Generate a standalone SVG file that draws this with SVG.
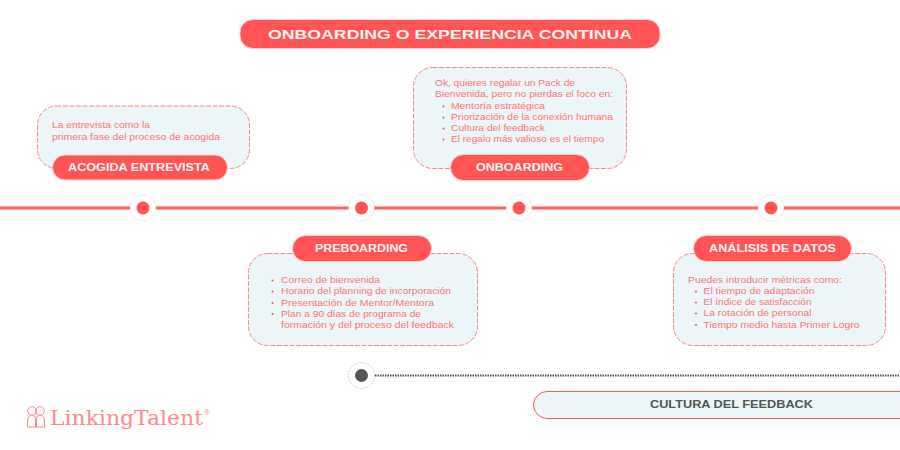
<svg xmlns="http://www.w3.org/2000/svg" width="900" height="450" viewBox="0 0 900 450">
<style>
text{font-family:"Liberation Sans",Arial,sans-serif}
.box{fill:#ecf5f7;stroke:#ff8a8a;stroke-width:1;stroke-dasharray:5 1.500}
.pill{fill:#ff5555;stroke:#ffd0d0;stroke-width:1}
.pt{fill:#fdf3f3;font-weight:700;font-size:10px}
.t{fill:#ff7676;font-size:9px}
.b{fill:#ff5555}
.halo{fill:#fff;stroke:#ffa8a8;stroke-width:.8;stroke-dasharray:1 1.600}
.dot{fill:#ff5555}
.logo{fill:none;stroke:#ff8a8a;stroke-width:1}
</style>
<rect width="900" height="450" fill="#fff"/>
<g id="connectors">
<line x1="0" y1="208" x2="900" y2="208" stroke="#ff5c5c" stroke-width="3"/>
<line x1="375" y1="375.500" x2="900" y2="375.500" stroke="#555" stroke-width="2.200" stroke-dasharray="1.500 1"/>
</g>
<g id="title"><rect class="pill" x="240" y="19.500" width="420" height="29" rx="13"/>
<text x="268" y="38.500" textLength="364" lengthAdjust="spacingAndGlyphs" style="font-size:13.500px;font-weight:700;fill:#fdf3f3">ONBOARDING O EXPERIENCIA CONTINUA</text></g>
<g id="node-t1"><circle class="halo" cx="143" cy="208" r="13"/><circle class="dot" cx="143" cy="208" r="6.500"/></g>
<g id="node-t2"><circle class="halo" cx="361.500" cy="208" r="13"/><circle class="dot" cx="361.500" cy="208" r="6.500"/></g>
<g id="node-t3"><circle class="halo" cx="519" cy="208" r="13"/><circle class="dot" cx="519" cy="208" r="6.500"/></g>
<g id="node-t4"><circle class="halo" cx="771" cy="208" r="13"/><circle class="dot" cx="771" cy="208" r="6.500"/></g>
<g id="node-acogida">
<rect class="box" x="37.500" y="106" width="212" height="62.500" rx="19"/>
<rect class="pill" x="52.500" y="155" width="175" height="25" rx="12.500"/>
<text class="pt" x="68" y="171" textLength="142" lengthAdjust="spacingAndGlyphs">ACOGIDA ENTREVISTA</text>
<text class="t" x="52" y="128" textLength="98" lengthAdjust="spacingAndGlyphs">La entrevista como la</text>
<text class="t" x="52" y="139.500" textLength="168" lengthAdjust="spacingAndGlyphs">primera fase del proceso de acogida</text>
</g>
<g id="node-onboarding">
<rect class="box" x="413.500" y="67.500" width="213" height="101" rx="19"/>
<rect class="pill" x="450.500" y="154.500" width="139" height="26" rx="13"/>
<text class="pt" x="476" y="171" textLength="87" lengthAdjust="spacingAndGlyphs">ONBOARDING</text>
<text class="t" x="435" y="86" textLength="140" lengthAdjust="spacingAndGlyphs">Ok, quieres regalar un Pack de</text>
<text class="t" x="435" y="97" textLength="178" lengthAdjust="spacingAndGlyphs">Bienvenida, pero no pierdas el foco en:</text>
<circle class="b" cx="443.500" cy="106.500" r="1"/><text class="t" x="451" y="109" textLength="94" lengthAdjust="spacingAndGlyphs">Mentoría estratégica</text>
<circle class="b" cx="443.500" cy="117.500" r="1"/><text class="t" x="451" y="120" textLength="162" lengthAdjust="spacingAndGlyphs">Priorización de la conexión humana</text>
<circle class="b" cx="443.500" cy="128.500" r="1"/><text class="t" x="451" y="131" textLength="94" lengthAdjust="spacingAndGlyphs">Cultura del feedback</text>
<circle class="b" cx="443.500" cy="139.500" r="1"/><text class="t" x="451" y="142" textLength="153" lengthAdjust="spacingAndGlyphs">El regalo más valioso es el tiempo</text>
</g>
<g id="node-preboarding">
<rect class="box" x="248.500" y="253.500" width="229" height="92" rx="19"/>
<rect class="pill" x="292.500" y="235.500" width="139" height="26" rx="13"/>
<text class="pt" x="315" y="251.500" textLength="93" lengthAdjust="spacingAndGlyphs">PREBOARDING</text>
<circle class="b" cx="272.500" cy="280.500" r="1"/><text class="t" x="281" y="283" textLength="99" lengthAdjust="spacingAndGlyphs">Correo de bienvenida</text>
<circle class="b" cx="272.500" cy="291.500" r="1"/><text class="t" x="281" y="294" textLength="170" lengthAdjust="spacingAndGlyphs">Horario del planning de incorporación</text>
<circle class="b" cx="272.500" cy="303" r="1"/><text class="t" x="281" y="306" textLength="153" lengthAdjust="spacingAndGlyphs">Presentación de Mentor/Mentora</text>
<circle class="b" cx="272.500" cy="314" r="1"/><text class="t" x="281" y="317" textLength="140" lengthAdjust="spacingAndGlyphs">Plan a 90 días de programa de</text>
<text class="t" x="281" y="328" textLength="173" lengthAdjust="spacingAndGlyphs">formación y del proceso del feedback</text>
</g>
<g id="node-analisis">
<rect class="box" x="673.500" y="253.500" width="212" height="92" rx="19"/>
<rect class="pill" x="693.500" y="235.500" width="158" height="26" rx="13"/>
<text class="pt" x="709" y="251.500" textLength="127" lengthAdjust="spacingAndGlyphs">ANÁLISIS DE DATOS</text>
<text class="t" x="688" y="283" textLength="154" lengthAdjust="spacingAndGlyphs">Puedes introducir métricas como:</text>
<circle class="b" cx="696" cy="291.500" r="1"/><text class="t" x="703.500" y="294" textLength="111" lengthAdjust="spacingAndGlyphs">El tiempo de adaptación</text>
<circle class="b" cx="696" cy="302.500" r="1"/><text class="t" x="703.500" y="305" textLength="108" lengthAdjust="spacingAndGlyphs">El índice de satisfacción</text>
<circle class="b" cx="696" cy="313.500" r="1"/><text class="t" x="703.500" y="316" textLength="108" lengthAdjust="spacingAndGlyphs">La rotación de personal</text>
<circle class="b" cx="696" cy="325" r="1"/><text class="t" x="703.500" y="328" textLength="156" lengthAdjust="spacingAndGlyphs">Tiempo medio hasta Primer Logro</text>
</g>
<g id="node-cultura-dot"><circle cx="361.500" cy="375.500" r="13" fill="#fff" stroke="#999" stroke-width=".8" stroke-dasharray="1 1.600"/><circle cx="361.500" cy="375.500" r="6.500" fill="#555"/></g>
<g id="node-cultura">
<path d="M905 391.500H547a13.500 13.500 0 0 0 0 27H905Z" fill="#ecf5f7" stroke="#ff5c5c" stroke-width="1"/>
<text x="650" y="407.500" textLength="163" lengthAdjust="spacingAndGlyphs" style="font-size:10px;font-weight:700;fill:#555">CULTURA DEL FEEDBACK</text>
</g>
<g id="logo">
<circle class="logo" cx="32" cy="411" r="4.300"/><circle class="logo" cx="40" cy="411" r="4.300"/>
<path class="logo" d="M27.500 427V420a4.500 4.500 0 0 1 9 0V427ZM35.500 427V420a4.500 4.500 0 0 1 9 0V427Z"/>
<text x="50" y="425" textLength="153" lengthAdjust="spacingAndGlyphs" style="font-family:'DejaVu Serif','Liberation Serif',serif;font-size:20px;fill:#ff8a8a">LinkingTalent</text>
<text x="204" y="415" style="font-size:8px;fill:#ff8a8a">®</text>
</g>
</svg>
